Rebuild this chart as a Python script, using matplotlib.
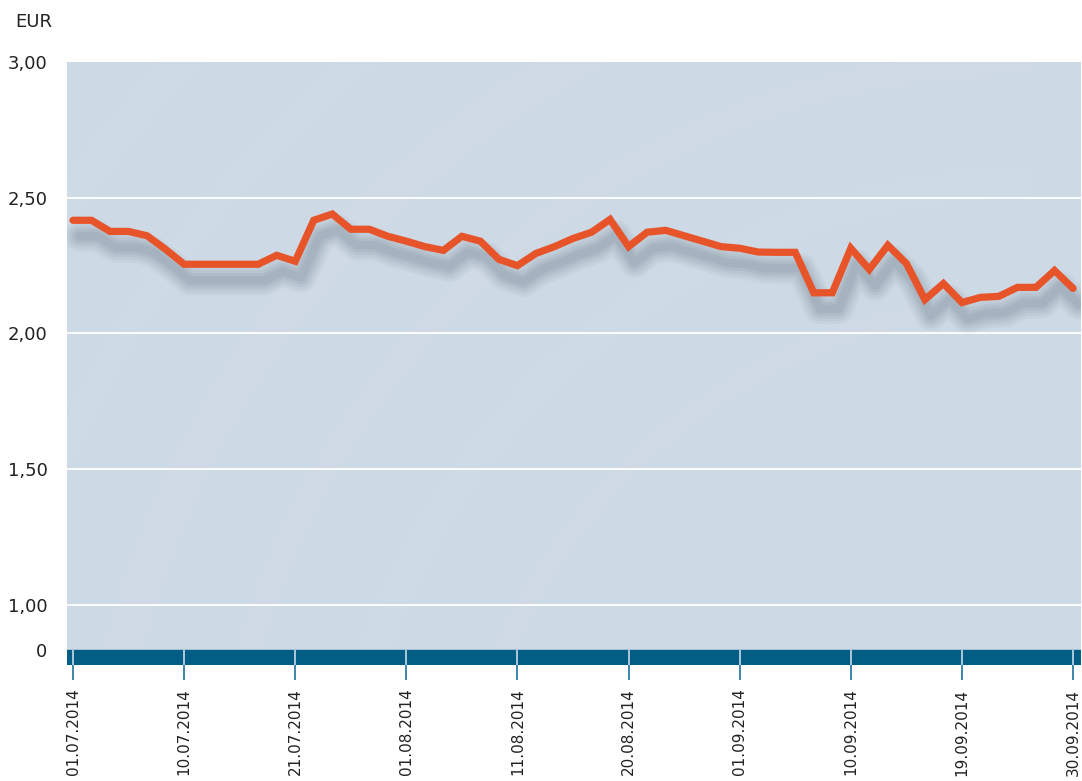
import matplotlib
matplotlib.use("Agg")
import matplotlib.pyplot as plt
import matplotlib.transforms as mtransforms
from matplotlib.patches import Arc, Rectangle
import numpy as np

# Kursverlauf Q3 2014 (EUR)
kurs = [2.417, 2.417, 2.376, 2.376, 2.36, 2.31, 2.255, 2.255, 2.255, 2.255,
        2.255, 2.288, 2.266, 2.417, 2.44, 2.384, 2.384, 2.358, 2.34, 2.32,
        2.306, 2.358, 2.34, 2.273, 2.25, 2.295, 2.32, 2.35, 2.373, 2.42,
        2.32, 2.373, 2.38, 2.36, 2.34, 2.32, 2.314, 2.30, 2.299, 2.299,
        2.15, 2.15, 2.314, 2.236, 2.325, 2.258, 2.125, 2.184, 2.114, 2.133,
        2.137, 2.17, 2.17, 2.232, 2.166]
datum_labels = ['01.07.2014', '10.07.2014', '21.07.2014', '01.08.2014',
                '11.08.2014', '20.08.2014', '01.09.2014', '10.09.2014',
                '19.09.2014', '30.09.2014']
y_werte = [1.0, 1.5, 2.0, 2.5, 3.0]
y_labels = ['1,00', '1,50', '2,00', '2,50', '3,00']

# Achsenbruch: "0" sitzt am oberen Rand des Balkens
y_null = 0.834
y_unten = 0.779

x = np.arange(len(kurs))
tick_pos = np.arange(0, len(kurs), 6)

fig = plt.figure(figsize=(10.82, 7.81), dpi=100)
ax = fig.add_axes([67 / 1082, 116 / 781, 1014 / 1082, 603 / 781])
ax.set_facecolor('#cdd9e4')
ax.set_xlim(-0.324, 54.43)
ax.set_ylim(y_unten, 3.0)

# dezente Schwünge im Hintergrund (Kreise in Pixeln)
seitenv = 603 / 1014
for r, lw, a in [(1.55, 26, 0.05), (1.35, 16, 0.05), (1.15, 22, 0.04),
                 (0.95, 12, 0.05), (1.75, 18, 0.04), (1.95, 24, 0.035)]:
    arc = Arc((0.95, -0.35), 2 * r * seitenv, 2 * r, theta1=90, theta2=200,
              transform=ax.transAxes, color='white', lw=lw, alpha=a, zorder=0)
    ax.add_patch(arc)

# Gitterlinien
for yv in y_werte[:-1]:
    ax.axhline(yv, color='white', lw=1.3, zorder=1)

# Balken unten
ax.add_patch(Rectangle((-1, y_unten), 60, y_null - y_unten,
                       color='#035e86', zorder=2, clip_on=True))
ax.vlines(tick_pos, y_unten, y_null, color='#b9d2e0', lw=1.3, zorder=3)

# weicher Schatten der Linie
tr = mtransforms.offset_copy(ax.transData, fig=fig, x=6, y=-16, units='dots')
for lw, a in [(22, 0.05), (18, 0.06), (14, 0.07), (10, 0.08), (6, 0.09)]:
    ax.plot(x, kurs, color='#4f6273', lw=lw, alpha=a, transform=tr,
            solid_joinstyle='round', solid_capstyle='round', zorder=4)

ax.plot(x, kurs, color='#e8542a', lw=5.2, solid_joinstyle='miter',
        solid_capstyle='round', zorder=5)

for s in ax.spines.values():
    s.set_visible(False)

ax.set_yticks([y_null] + y_werte)
ax.set_yticklabels(['0'] + y_labels, fontsize=13, color='#222222')
ax.tick_params(axis='y', length=0, pad=14)

ax.set_xticks(tick_pos)
ax.set_xticklabels(datum_labels, rotation=90, fontsize=11, color='#222222',
                   va='top', ha='center')
ax.tick_params(axis='x', direction='out', length=11, width=1.4,
               color='#3c86aa', pad=6)

fig.text(52 / 1082, 1 - 22 / 781, 'EUR', fontsize=13, color='#222222',
         ha='right', va='center')

fig.savefig('out.png', dpi=100)
